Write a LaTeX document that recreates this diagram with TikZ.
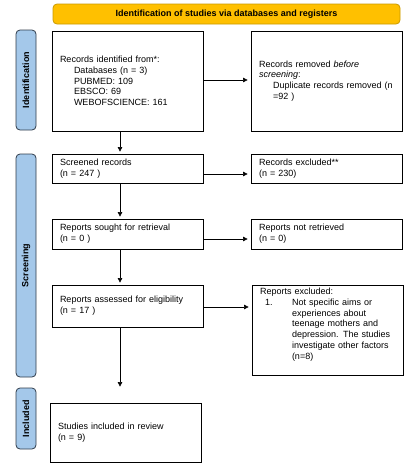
\documentclass[tikz,border=0pt]{standalone}
\usepackage{fontspec}
\setmainfont{Liberation Sans}
\usetikzlibrary{arrows.meta}
\definecolor{titlefill}{HTML}{FFC000}
\definecolor{titledraw}{HTML}{C99A00}
\definecolor{sidefill}{HTML}{A4C8EA}
\definecolor{sidedraw}{HTML}{2F3B4A}
\begin{document}
\begin{tikzpicture}[x=1pt,y=-1pt,
  box/.style={draw, line width=0.8pt, rectangle, inner xsep=8pt, inner ysep=2pt,
    minimum width=151pt, text width=135pt, align=left,
    font=\fontsize{9}{10.7}\selectfont},
  titlebar/.style={draw=titledraw, fill=titlefill, line width=0.8pt, rounded corners=4pt,
    minimum width=347pt, minimum height=20pt, font=\fontsize{9}{10.7}\selectfont\bfseries},
  side/.style={draw=sidedraw, fill=sidefill, line width=0.8pt, rounded corners=4pt,
    rotate=90, minimum height=20pt, inner sep=0pt, font=\fontsize{9}{10.7}\selectfont\bfseries},
  arr/.style={-{Triangle[length=4.5pt,width=4.5pt]}, line width=0.6pt}]
\useasboundingbox (0,0) rectangle (420,466);

\node[titlebar] (title) at (226.5,14) {Identification of studies via databases and registers};

\node[side, minimum width=100pt] (sid) at (26,80) {Identification};
\node[side, minimum width=223pt] (ssc) at (26,265.5) {Screening};
\node[side, minimum width=61pt] (sin) at (26,418.5) {Included};

\node[box, minimum height=100pt] (b1) at (127.5,81) {Records identified from*:\\
\hspace*{14pt}Databases (n = 3)\\
\hspace*{14pt}PUBMED: 109\\
\hspace*{14pt}EBSCO: 69\\
\hspace*{14pt}WEBOFSCIENCE: 161};

\node[box, minimum height=100pt] (b2) at (326.5,81) {Records removed \textit{before}\\
\textit{screening}:\\
\hspace*{14pt}Duplicate records removed (n\\
\hspace*{14pt}=92 )};

\node[box, minimum height=29pt] (scr) at (127.5,168.5) {Screened records\\(n = 247 )};
\node[box, minimum height=29pt] (exc) at (326.5,168.5) {Records excluded**\\(n = 230)};

\node[box, minimum height=30pt] (sou) at (127.5,234) {Reports sought for retrieval\\(n = 0 )};
\node[box, minimum height=30pt] (nre) at (326.5,234) {Reports not retrieved\\(n = 0)};

\node[box, minimum height=42pt] (ass) at (127.5,306) {Reports assessed for eligibility\\(n = 17 )};
\node[box, minimum height=90pt] (rx) at (327.5,330) {Reports excluded:\\
\makebox[32pt][l]{\hspace*{5pt}1.}Not specific aims or\\
\hspace*{32pt}experiences about\\
\hspace*{32pt}teenage mothers and\\
\hspace*{32pt}depression. The studies\\
\hspace*{32pt}investigate other factors\\
\hspace*{32pt}(n=8)\\[2pt]\mbox{}};

\node[box, minimum height=59pt] (st) at (125.5,432.5) {Studies included in review\\(n = 9)};

% horizontal arrows
\draw[arr, shorten >=3pt] ([yshift=1pt]b1.east) -- ([yshift=1pt]b1.east -| b2.west);
\draw[arr, shorten >=3pt] ([yshift=-5.5pt]scr.east) -- ([yshift=-5.5pt]scr.east -| exc.west);
\draw[arr, shorten >=3pt] ([yshift=-5pt]sou.east) -- ([yshift=-5pt]sou.east -| nre.west);
\draw[arr, shorten >=3pt] ([yshift=-1pt]ass.east) -- ([yshift=-1pt]ass.east -| rx.west);

% vertical arrows
\draw[arr, shorten >=2pt] ([xshift=-7.5pt]b1.south) -- ([xshift=-7.5pt]b1.south |- scr.north);
\draw[arr, shorten >=2pt] ([xshift=-7.5pt]scr.south) -- ([xshift=-7.5pt]scr.south |- sou.north);
\draw[arr, shorten >=2pt] ([xshift=-7.5pt]sou.south) -- ([xshift=-7.5pt]sou.south |- ass.north);
\draw[arr, shorten >=16pt] ([xshift=-7.5pt]ass.south) -- ([xshift=-7.5pt]ass.south |- st.north);
\end{tikzpicture}
\end{document}
